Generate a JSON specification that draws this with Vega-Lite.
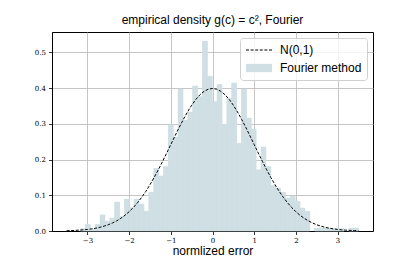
{
  "$schema": "https://vega.github.io/schema/vega-lite/v6.json",
  "autosize": "none",
  "width": 321,
  "height": 199,
  "padding": {"left": 52, "top": 32, "right": 42, "bottom": 29},
  "background": "white",
  "title": {"text": "empirical density g(c) = c², Fourier", "font": "Liberation Sans", "fontSize": 12, "fontWeight": "normal", "color": "black", "offset": 5},
  "view": {"stroke": "black", "strokeWidth": 1},
  "config": {
    "axis": {"domainColor": "black", "domainWidth": 1, "tickColor": "black", "tickSize": 3.5, "tickWidth": 0.8, "labelFont": "DejaVu Serif", "labelFontSize": 7, "labelColor": "black", "labelOverlap": false, "gridColor": "#b8b8b8", "gridWidth": 0.8, "zindex": 1, "titleFont": "Liberation Sans", "titleFontSize": 12, "titleFontWeight": "normal", "titleColor": "black"},
    "axisY": {"labelOverlap": false, "labelSeparation": 0},
    "axisQuantitative": {"labelOverlap": false},
    "legend": {"orient": "top-right", "offset": 6, "fillColor": "rgba(255,255,255,0.8)", "strokeColor": "#d0d0d0", "cornerRadius": 3, "padding": 5, "labelFont": "Liberation Sans", "labelFontSize": 12, "labelColor": "black", "symbolSize": 169, "symbolOffset": 7, "labelOffset": 14, "rowPadding": 5}
  },
  "datasets": {
    "hist": [
      {"x0": -3.165, "x1": -3.048, "density": 0.006},
      {"x0": -3.048, "x1": -2.931, "density": 0.018},
      {"x0": -2.931, "x1": -2.814, "density": 0.006},
      {"x0": -2.814, "x1": -2.697, "density": 0.018},
      {"x0": -2.697, "x1": -2.580, "density": 0.045},
      {"x0": -2.580, "x1": -2.463, "density": 0.027},
      {"x0": -2.463, "x1": -2.346, "density": 0.036},
      {"x0": -2.346, "x1": -2.229, "density": 0.081},
      {"x0": -2.229, "x1": -2.112, "density": 0.040},
      {"x0": -2.112, "x1": -1.995, "density": 0.089},
      {"x0": -1.995, "x1": -1.878, "density": 0.065},
      {"x0": -1.878, "x1": -1.761, "density": 0.089},
      {"x0": -1.761, "x1": -1.644, "density": 0.075},
      {"x0": -1.644, "x1": -1.527, "density": 0.055},
      {"x0": -1.527, "x1": -1.410, "density": 0.108},
      {"x0": -1.410, "x1": -1.293, "density": 0.175},
      {"x0": -1.293, "x1": -1.176, "density": 0.154},
      {"x0": -1.176, "x1": -1.059, "density": 0.180},
      {"x0": -1.059, "x1": -0.942, "density": 0.297},
      {"x0": -0.942, "x1": -0.825, "density": 0.263},
      {"x0": -0.825, "x1": -0.708, "density": 0.397},
      {"x0": -0.708, "x1": -0.591, "density": 0.310},
      {"x0": -0.591, "x1": -0.474, "density": 0.333},
      {"x0": -0.474, "x1": -0.357, "density": 0.406},
      {"x0": -0.357, "x1": -0.240, "density": 0.376},
      {"x0": -0.240, "x1": -0.123, "density": 0.531},
      {"x0": -0.123, "x1": -0.006, "density": 0.433},
      {"x0": -0.006, "x1": 0.111, "density": 0.362},
      {"x0": 0.111, "x1": 0.228, "density": 0.410},
      {"x0": 0.228, "x1": 0.345, "density": 0.298},
      {"x0": 0.345, "x1": 0.462, "density": 0.372},
      {"x0": 0.462, "x1": 0.579, "density": 0.414},
      {"x0": 0.579, "x1": 0.696, "density": 0.245},
      {"x0": 0.696, "x1": 0.813, "density": 0.397},
      {"x0": 0.813, "x1": 0.930, "density": 0.316},
      {"x0": 0.930, "x1": 1.047, "density": 0.285},
      {"x0": 1.047, "x1": 1.164, "density": 0.171},
      {"x0": 1.164, "x1": 1.281, "density": 0.235},
      {"x0": 1.281, "x1": 1.398, "density": 0.180},
      {"x0": 1.398, "x1": 1.515, "density": 0.127},
      {"x0": 1.515, "x1": 1.632, "density": 0.120},
      {"x0": 1.632, "x1": 1.749, "density": 0.108},
      {"x0": 1.749, "x1": 1.866, "density": 0.092},
      {"x0": 1.866, "x1": 1.983, "density": 0.097},
      {"x0": 1.983, "x1": 2.100, "density": 0.083},
      {"x0": 2.100, "x1": 2.217, "density": 0.064},
      {"x0": 2.217, "x1": 2.334, "density": 0.055},
      {"x0": 2.451, "x1": 2.568, "density": 0.008},
      {"x0": 2.568, "x1": 2.685, "density": 0.008},
      {"x0": 2.685, "x1": 2.802, "density": 0.008},
      {"x0": 2.802, "x1": 2.919, "density": 0.006},
      {"x0": 2.919, "x1": 3.036, "density": 0.006},
      {"x0": 3.036, "x1": 3.153, "density": 0.006},
      {"x0": 3.270, "x1": 3.387, "density": 0.008},
      {"x0": 3.387, "x1": 3.504, "density": 0.008}
    ],
    "pdf": [
      {"x": -3.5, "y": 0.0009}, {"x": -3.4, "y": 0.0012}, {"x": -3.3, "y": 0.0017}, {"x": -3.2, "y": 0.0024},
      {"x": -3.1, "y": 0.0033}, {"x": -3.0, "y": 0.0044}, {"x": -2.9, "y": 0.0060}, {"x": -2.8, "y": 0.0079},
      {"x": -2.7, "y": 0.0104}, {"x": -2.6, "y": 0.0136}, {"x": -2.5, "y": 0.0175}, {"x": -2.4, "y": 0.0224},
      {"x": -2.3, "y": 0.0283}, {"x": -2.2, "y": 0.0355}, {"x": -2.1, "y": 0.0440}, {"x": -2.0, "y": 0.0540},
      {"x": -1.9, "y": 0.0656}, {"x": -1.8, "y": 0.0790}, {"x": -1.7, "y": 0.0940}, {"x": -1.6, "y": 0.1109},
      {"x": -1.5, "y": 0.1295}, {"x": -1.4, "y": 0.1497}, {"x": -1.3, "y": 0.1714}, {"x": -1.2, "y": 0.1942},
      {"x": -1.1, "y": 0.2179}, {"x": -1.0, "y": 0.2420}, {"x": -0.9, "y": 0.2661}, {"x": -0.8, "y": 0.2897},
      {"x": -0.7, "y": 0.3123}, {"x": -0.6, "y": 0.3332}, {"x": -0.5, "y": 0.3521}, {"x": -0.4, "y": 0.3683},
      {"x": -0.3, "y": 0.3814}, {"x": -0.2, "y": 0.3910}, {"x": -0.1, "y": 0.3970}, {"x": 0.0, "y": 0.3989},
      {"x": 0.1, "y": 0.3970}, {"x": 0.2, "y": 0.3910}, {"x": 0.3, "y": 0.3814}, {"x": 0.4, "y": 0.3683},
      {"x": 0.5, "y": 0.3521}, {"x": 0.6, "y": 0.3332}, {"x": 0.7, "y": 0.3123}, {"x": 0.8, "y": 0.2897},
      {"x": 0.9, "y": 0.2661}, {"x": 1.0, "y": 0.2420}, {"x": 1.1, "y": 0.2179}, {"x": 1.2, "y": 0.1942},
      {"x": 1.3, "y": 0.1714}, {"x": 1.4, "y": 0.1497}, {"x": 1.5, "y": 0.1295}, {"x": 1.6, "y": 0.1109},
      {"x": 1.7, "y": 0.0940}, {"x": 1.8, "y": 0.0790}, {"x": 1.9, "y": 0.0656}, {"x": 2.0, "y": 0.0540},
      {"x": 2.1, "y": 0.0440}, {"x": 2.2, "y": 0.0355}, {"x": 2.3, "y": 0.0283}, {"x": 2.4, "y": 0.0224},
      {"x": 2.5, "y": 0.0175}, {"x": 2.6, "y": 0.0136}, {"x": 2.7, "y": 0.0104}, {"x": 2.8, "y": 0.0079},
      {"x": 2.9, "y": 0.0060}, {"x": 3.0, "y": 0.0044}, {"x": 3.1, "y": 0.0033}, {"x": 3.2, "y": 0.0024},
      {"x": 3.3, "y": 0.0017}, {"x": 3.4, "y": 0.0012}, {"x": 3.5, "y": 0.0009}
    ]
  },
  "layer": [
    {
      "data": {"name": "hist"},
      "mark": {"type": "rect", "color": "#cfdfe4"},
      "encoding": {
        "x": {"field": "x0", "type": "quantitative", "scale": {"domain": [-3.85, 3.85], "nice": false, "zero": false},
              "axis": {"values": [-3, -2, -1, 0, 1, 2, 3], "format": "d", "title": "normlized error", "labelPadding": 2, "titlePadding": 2, "labelOverlap": false}},
        "x2": {"field": "x1"},
        "y": {"field": "density", "type": "quantitative", "scale": {"domain": [0, 0.557], "nice": false},
              "axis": {"values": [0, 0.1, 0.2, 0.3, 0.4, 0.5], "format": ".1f", "title": null, "labelPadding": 3, "labelOverlap": false, "labelBound": false}},
        "y2": {"datum": 0},
        "color": {"datum": "Fourier method", "type": "nominal",
                  "scale": {"domain": ["N(0,1)", "Fourier method"], "range": ["black", "#cfdfe4"]},
                  "legend": {"title": null, "encode": {"symbols": {"update": {
                    "shape": {"signal": "datum.value === 'N(0,1)' ? 'M-2,0H2' : 'M-2,-0.64H2V0.64H-2Z'"},
                    "fill": {"signal": "datum.value === 'N(0,1)' ? 'transparent' : '#cfdfe4'"},
                    "stroke": {"signal": "datum.value === 'N(0,1)' ? 'black' : 'transparent'"},
                    "strokeDash": {"signal": "datum.value === 'N(0,1)' ? [3, 1.6] : [1, 0]"},
                    "strokeWidth": {"value": 1},
                    "opacity": {"value": 1}
                  }}}}}
      }
    },
    {
      "data": {"name": "hist"},
      "mark": {"type": "rect", "color": "#cfdfe4", "stroke": "#cfdfe4", "strokeWidth": 0.6},
      "encoding": {
        "x": {"field": "x0", "type": "quantitative"},
        "x2": {"field": "x1"},
        "y": {"field": "density", "type": "quantitative",
              "axis": {"values": [0, 0.1, 0.2, 0.3, 0.4, 0.5], "format": ".1f", "title": null, "labelPadding": 3, "labelOverlap": false, "labelBound": false}},
        "y2": {"datum": 0}
      }
    },
    {
      "data": {"name": "pdf"},
      "mark": {"type": "line", "color": "black", "strokeWidth": 1, "strokeDash": [3, 1.6]},
      "encoding": {
        "x": {"field": "x", "type": "quantitative"},
        "y": {"field": "y", "type": "quantitative",
              "axis": {"values": [0, 0.1, 0.2, 0.3, 0.4, 0.5], "format": ".1f", "title": null, "labelPadding": 3, "labelOverlap": false, "labelBound": false}}
      }
    }
  ]
}
